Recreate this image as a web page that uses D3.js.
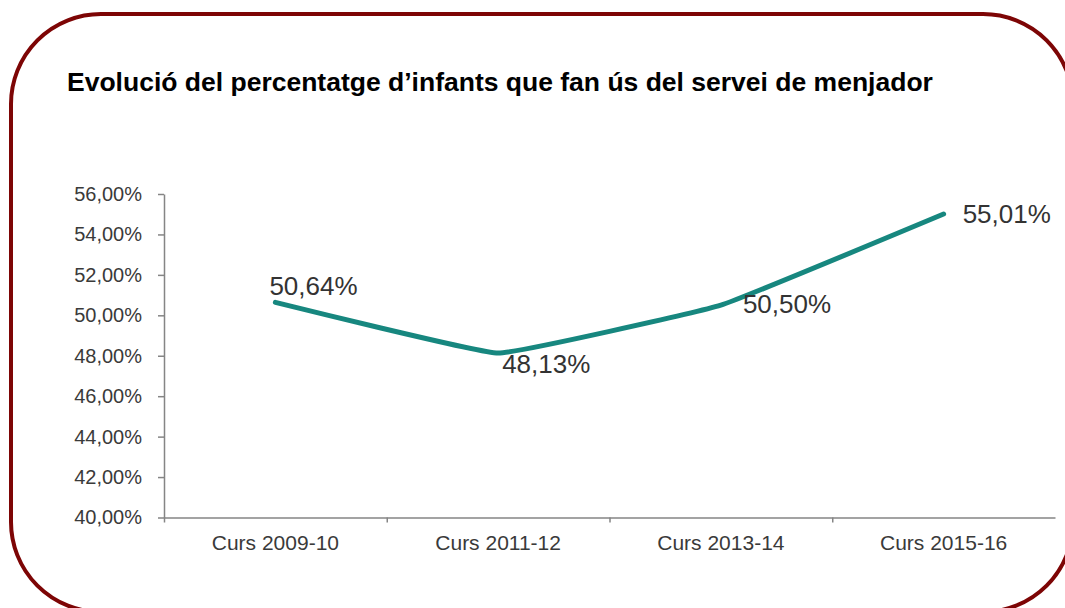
<!DOCTYPE html>
<html lang="ca">
<head>
    <meta charset="UTF-8">
    <title>Evolució del percentatge d'infants que fan ús del servei de menjador</title>
    <script src="https://d3js.org/d3.v7.min.js"></script>
    <style>
        body { margin: 0; background: #fff; }
        svg { display: block; font-family: "Liberation Sans", Arial, sans-serif; }
        .axis path, .axis line { stroke: #858585; stroke-width: 1.5; }
        .axis text { fill: #3a3a3a; font-size: 20px; }
        .axis.cats text { font-size: 21px; }
    </style>
</head>
<body>
    <svg width="1065" height="608"></svg>

    <script>
        // Data
        const categories = ["Curs 2009-10", "Curs 2011-12", "Curs 2013-14", "Curs 2015-16"];
        const values = [50.64, 48.13, 50.50, 55.01];
        const yTicks = [40, 42, 44, 46, 48, 50, 52, 54, 56];
        const title = "Evolució del percentatge d\u2019infants que fan ús del servei de menjador";

        // label placement relative to each point (dx to label start, dy to baseline)
        const labelOffsets = [[-6, -7], [4, 20], [22, 8], [19, 9]];

        const width = 1065;
        const height = 608;
        const plot = { left: 164, right: 1055, top: 194, bottom: 517.5 };

        const svg = d3.select("svg");

        // Rounded frame
        svg.append("rect")
            .attr("x", 11)
            .attr("y", 14)
            .attr("width", 1062)
            .attr("height", 598)
            .attr("rx", 90)
            .attr("ry", 90)
            .attr("fill", "none")
            .attr("stroke", "#7d0505")
            .attr("stroke-width", 4);

        // Title
        svg.append("text")
            .attr("x", 67)
            .attr("y", 91)
            .attr("font-size", 26.5)
            .attr("font-weight", "bold")
            .attr("fill", "#000")
            .text(title);

        // Scales
        const x = d3.scaleBand()
            .domain(categories)
            .range([plot.left, plot.right])
            .paddingInner(0)
            .paddingOuter(0);

        const xBounds = d3.scaleLinear()
            .domain([0, categories.length])
            .range([plot.left, plot.right]);

        const y = d3.scaleLinear()
            .domain([40, 56])
            .range([plot.bottom, plot.top]);

        const fmt = v => d3.format(".2f")(v).replace(".", ",") + "%";

        // Y axis
        svg.append("g")
            .attr("class", "axis")
            .attr("transform", `translate(${plot.left}, 0)`)
            .call(d3.axisLeft(y).tickValues(yTicks).tickSize(6).tickSizeOuter(0).tickPadding(16).tickFormat(fmt))
            .call(g => g.selectAll("text").attr("font-family", null).attr("font-size", null));

        // X axis: boundary ticks
        svg.append("g")
            .attr("class", "axis")
            .attr("transform", `translate(0, ${plot.bottom})`)
            .call(d3.axisBottom(xBounds).tickValues(d3.range(categories.length)).tickSize(5).tickSizeOuter(0).tickFormat(""));

        // X axis: category labels
        svg.append("g")
            .attr("class", "axis cats")
            .attr("transform", `translate(0, ${plot.bottom})`)
            .call(d3.axisBottom(x).tickSize(0).tickPadding(18))
            .call(g => g.select(".domain").remove())
            .call(g => g.selectAll("text").attr("font-family", null).attr("font-size", null));

        // Line
        const data = categories.map((c, i) => ({ c, v: values[i] }));
        const line = d3.line()
            .x(d => x(d.c) + x.bandwidth() / 2)
            .y(d => y(d.v))
            .curve(d3.curveCardinal.tension(0.75));

        svg.append("path")
            .datum(data)
            .attr("fill", "none")
            .attr("stroke", "#17877f")
            .attr("stroke-width", 5)
            .attr("stroke-linecap", "round")
            .attr("stroke-linejoin", "round")
            .attr("d", line);

        // Data labels
        svg.append("g")
            .selectAll("text")
            .data(data)
            .join("text")
            .attr("x", (d, i) => x(d.c) + x.bandwidth() / 2 + labelOffsets[i][0])
            .attr("y", (d, i) => y(d.v) + labelOffsets[i][1])
            .attr("font-size", 26)
            .attr("fill", "#333")
            .text(d => fmt(d.v));
    </script>
</body>
</html>
